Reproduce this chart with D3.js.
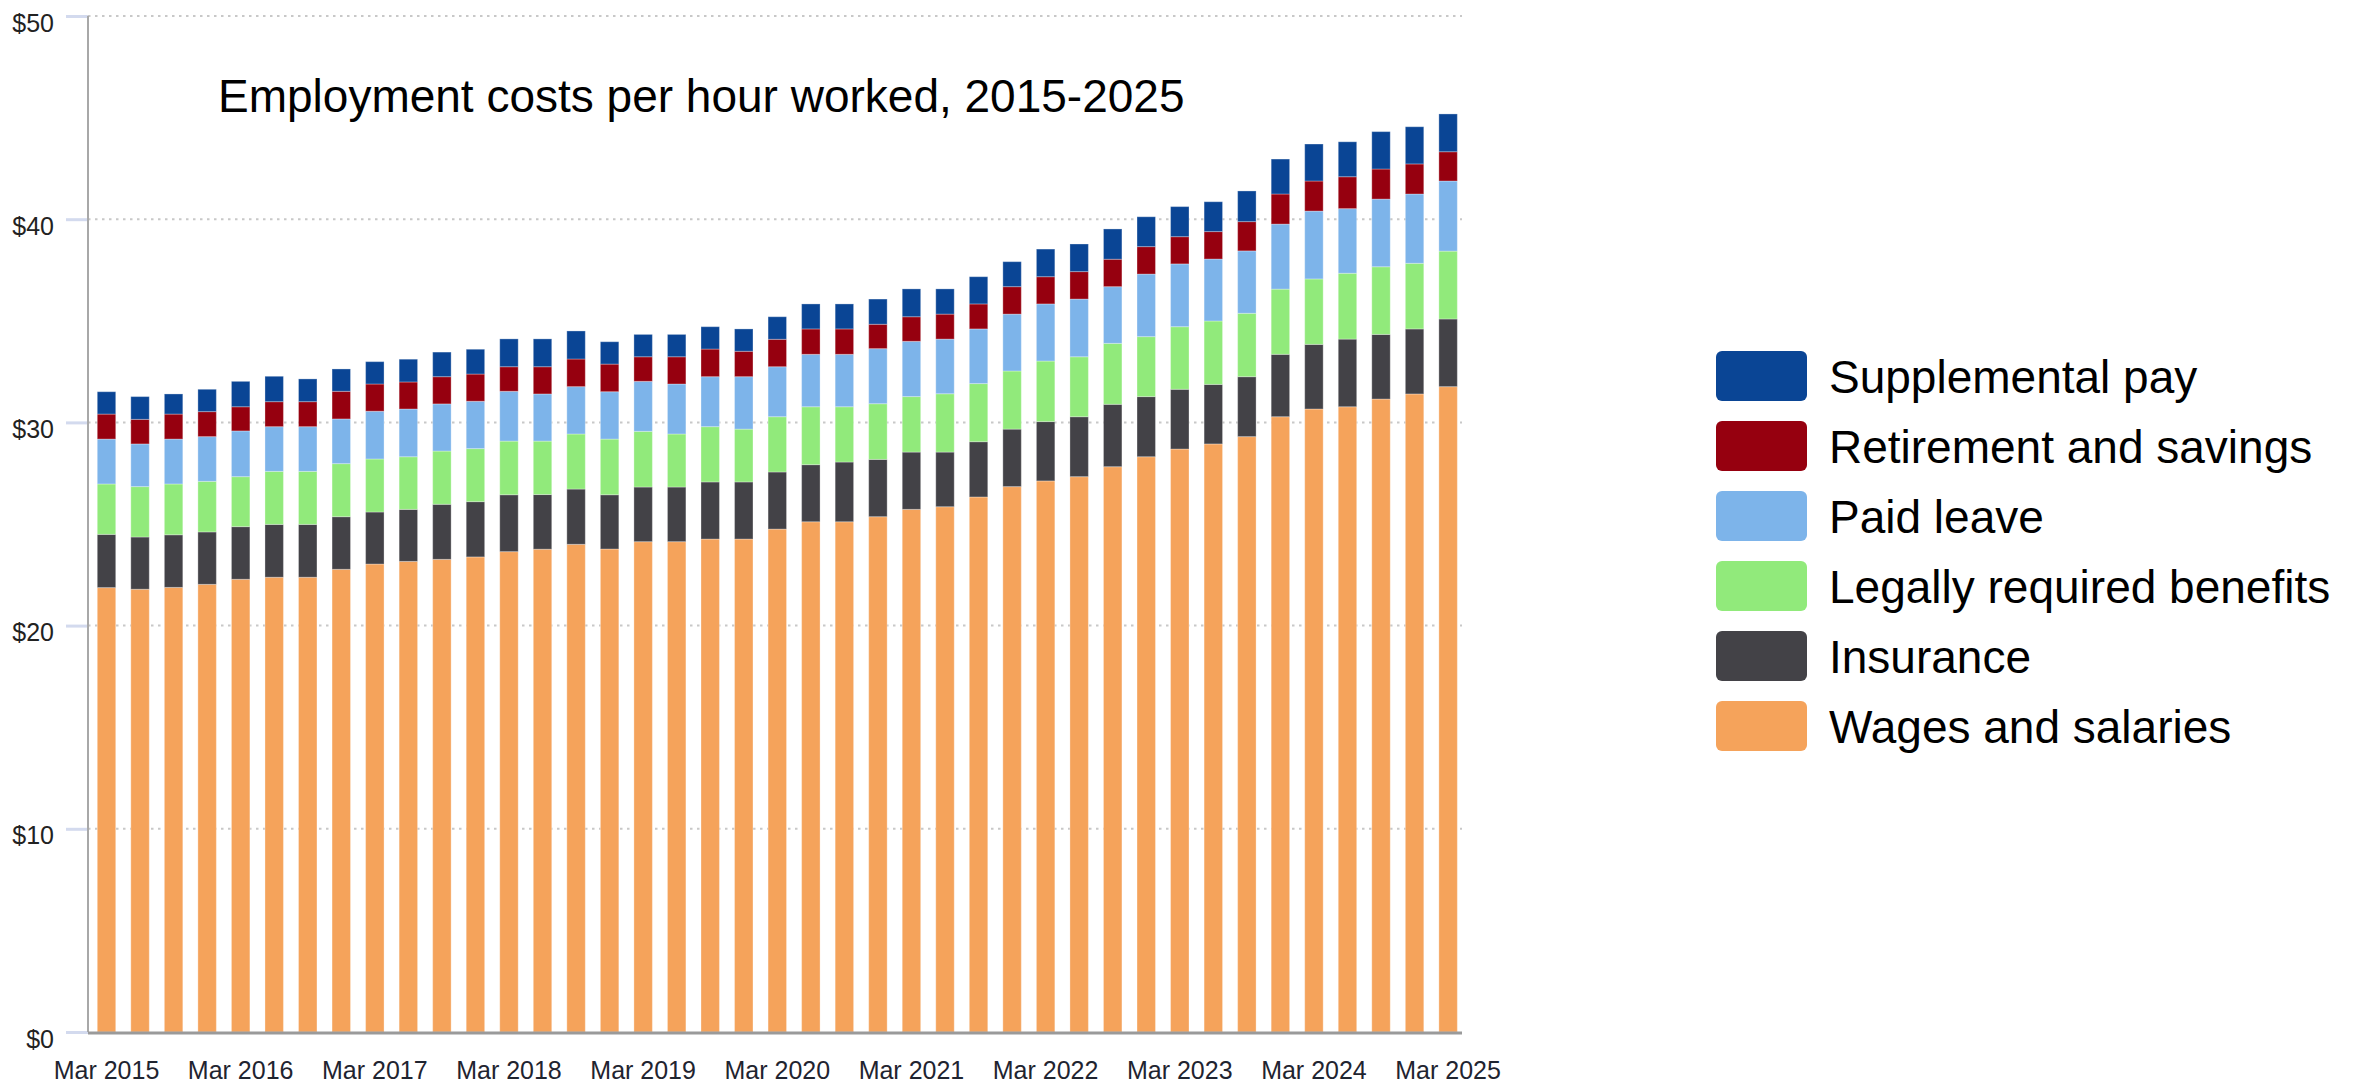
<!DOCTYPE html>
<html>
<head>
<meta charset="utf-8">
<script src="https://cdn.jsdelivr.net/npm/d3@7"></script>
<style>
  body { margin: 0; background: #fff; }
  svg { display: block; }
</style>
</head>
<body>
<div id="chart"></div>
<script>
// quarters, Mar 2015 .. Mar 2025
var quarters = [
  "Mar 2015", "Jun 2015", "Sep 2015", "Dec 2015",
  "Mar 2016", "Jun 2016", "Sep 2016", "Dec 2016",
  "Mar 2017", "Jun 2017", "Sep 2017", "Dec 2017",
  "Mar 2018", "Jun 2018", "Sep 2018", "Dec 2018",
  "Mar 2019", "Jun 2019", "Sep 2019", "Dec 2019",
  "Mar 2020", "Jun 2020", "Sep 2020", "Dec 2020",
  "Mar 2021", "Jun 2021", "Sep 2021", "Dec 2021",
  "Mar 2022", "Jun 2022", "Sep 2022", "Dec 2022",
  "Mar 2023", "Jun 2023", "Sep 2023", "Dec 2023",
  "Mar 2024", "Jun 2024", "Sep 2024", "Dec 2024",
  "Mar 2025"
];

// dollars per hour worked
var wages = [21.87, 21.79, 21.88, 22.03, 22.28, 22.38, 22.38, 22.77, 23.03, 23.16,
  23.26, 23.38, 23.64, 23.76, 24.00, 23.77, 24.13, 24.13, 24.26, 24.26,
  24.75, 25.11, 25.11, 25.36, 25.72, 25.85, 26.33, 26.84, 27.12, 27.33,
  27.82, 28.31, 28.69, 28.94, 29.30, 30.28, 30.66, 30.77, 31.15, 31.40, 31.76];
var insurance = [2.62, 2.57, 2.59, 2.58, 2.59, 2.60, 2.60, 2.59, 2.56, 2.56,
  2.71, 2.72, 2.80, 2.69, 2.72, 2.67, 2.69, 2.69, 2.81, 2.81,
  2.81, 2.81, 2.94, 2.82, 2.82, 2.69, 2.72, 2.83, 2.92, 2.95,
  3.07, 2.96, 2.94, 2.93, 2.95, 3.07, 3.18, 3.33, 3.18, 3.20, 3.33];
var legal = [2.48, 2.48, 2.50, 2.49, 2.46, 2.61, 2.61, 2.61, 2.61, 2.59,
  2.62, 2.61, 2.64, 2.63, 2.71, 2.74, 2.74, 2.61, 2.72, 2.60,
  2.72, 2.85, 2.72, 2.74, 2.73, 2.87, 2.86, 2.86, 2.98, 2.95,
  3.00, 2.95, 3.08, 3.12, 3.12, 3.21, 3.22, 3.24, 3.33, 3.23, 3.34];
var paidLeave = [2.21, 2.10, 2.21, 2.20, 2.25, 2.20, 2.20, 2.20, 2.35, 2.35,
  2.32, 2.33, 2.45, 2.32, 2.33, 2.33, 2.46, 2.46, 2.46, 2.58,
  2.46, 2.58, 2.58, 2.71, 2.72, 2.69, 2.69, 2.80, 2.81, 2.84,
  2.79, 3.08, 3.09, 3.05, 3.07, 3.20, 3.34, 3.18, 3.33, 3.41, 3.45];
var retirement = [1.23, 1.21, 1.23, 1.23, 1.19, 1.23, 1.23, 1.36, 1.34, 1.33,
  1.34, 1.34, 1.21, 1.34, 1.36, 1.36, 1.21, 1.34, 1.36, 1.25,
  1.35, 1.25, 1.25, 1.20, 1.21, 1.23, 1.23, 1.35, 1.34, 1.35,
  1.35, 1.35, 1.34, 1.35, 1.44, 1.48, 1.48, 1.57, 1.48, 1.48, 1.44];
var supplemental = [1.10, 1.12, 0.99, 1.10, 1.25, 1.25, 1.12, 1.10, 1.10, 1.12,
  1.21, 1.22, 1.37, 1.37, 1.38, 1.10, 1.10, 1.10, 1.10, 1.10,
  1.11, 1.23, 1.23, 1.24, 1.37, 1.24, 1.34, 1.23, 1.36, 1.36,
  1.49, 1.47, 1.48, 1.47, 1.51, 1.72, 1.82, 1.72, 1.84, 1.83, 1.86];

// stacking order, bottom to top
var seriesKeys = ["wages", "insurance", "legal", "paidLeave", "retirement", "supplemental"];
var seriesNames = ["Wages and salaries", "Insurance", "Legally required benefits",
  "Paid leave", "Retirement and savings", "Supplemental pay"];
var seriesColors = ["#F5A35B", "#434247", "#91EA7B", "#7DB4EA", "#96000F", "#0A4595"];

var yTicks = [0, 10, 20, 30, 40, 50];
var xTickLabels = ["Mar 2015", "Mar 2016", "Mar 2017", "Mar 2018", "Mar 2019", "Mar 2020",
  "Mar 2021", "Mar 2022", "Mar 2023", "Mar 2024", "Mar 2025"];
var title = "Employment costs per hour worked, 2015-2025";

var width = 2364,
  height = 1084;

var values = {
  wages: wages, insurance: insurance, legal: legal,
  paidLeave: paidLeave, retirement: retirement, supplemental: supplemental
};
var table = quarters.map(function(q, i) {
  var row = { quarter: q };
  seriesKeys.forEach(function(k) { row[k] = values[k][i]; });
  return row;
});

var svg = d3.select("#chart")
  .append("svg")
  .attr("width", width)
  .attr("height", height);

var axisLeft = 88,
  axisRight = 1462,
  baseY = 1032,
  topY = 16;

var x = d3.scaleBand()
  .domain(quarters)
  .range([axisLeft, 1466.6])
  .paddingInner(0.45)
  .paddingOuter(0.2766);

var y = d3.scaleLinear()
  .domain([0, 50])
  .range([baseY, topY]);

var color = d3.scaleOrdinal()
  .domain(seriesKeys)
  .range(seriesColors);

// gridlines (dotted)
svg.append("g")
  .selectAll("line")
  .data(yTicks.filter(function(d) { return d > 0; }))
  .enter()
  .append("line")
  .attr("x1", axisLeft)
  .attr("x2", axisRight)
  .attr("y1", function(d) { return y(d); })
  .attr("y2", function(d) { return y(d); })
  .attr("stroke", "#c8c8c8")
  .attr("stroke-width", 2)
  .style("stroke-dasharray", "2.5,4.5");

// y axis: short tick marks + labels
var yAxis = d3.axisLeft(y)
  .tickValues(yTicks)
  .tickSize(22)
  .tickPadding(12)
  .tickFormat(function(d) { return "$" + d; });

var gy = svg.append("g")
  .attr("transform", "translate(" + axisLeft + ",0)")
  .call(yAxis);
gy.select(".domain").remove();
gy.selectAll(".tick line")
  .attr("stroke", "#d3daee")
  .attr("stroke-width", 3);
gy.selectAll(".tick text")
  .attr("dy", "0.6em")
  .style("font-family", "'Liberation Sans', Arial, sans-serif")
  .style("font-size", "25px")
  .style("fill", "#222");

// stacked bars
var stacked = d3.stack().keys(seriesKeys)(table);

svg.append("g")
  .selectAll("g")
  .data(stacked)
  .enter()
  .append("g")
  .attr("fill", function(d) { return color(d.key); })
  .selectAll("rect")
  .data(function(d) { return d; })
  .enter()
  .append("rect")
  .attr("x", function(d) { return x(d.data.quarter); })
  .attr("width", x.bandwidth())
  .attr("y", function(d) { return y(d[1]); })
  .attr("height", function(d) { return y(d[0]) - y(d[1]); })
  .attr("stroke", "#ffffff")
  .attr("stroke-opacity", 0.3)
  .attr("stroke-width", 1);

// axis lines
svg.append("line")
  .attr("x1", axisLeft)
  .attr("x2", axisLeft)
  .attr("y1", y(50))
  .attr("y2", baseY)
  .attr("stroke", "#a8a8a8")
  .attr("stroke-width", 2);

svg.append("line")
  .attr("x1", axisLeft)
  .attr("x2", axisRight)
  .attr("y1", baseY + 1)
  .attr("y2", baseY + 1)
  .attr("stroke", "#9a9a9a")
  .attr("stroke-width", 3);

// x labels, one per year
svg.append("g")
  .selectAll("text")
  .data(xTickLabels)
  .enter()
  .append("text")
  .attr("x", function(d) { return x(d) + x.bandwidth() / 2; })
  .attr("y", 1079)
  .attr("text-anchor", "middle")
  .style("font-family", "'Liberation Sans', Arial, sans-serif")
  .style("font-size", "25px")
  .style("fill", "#1f2430")
  .text(function(d) { return d; });

// title
svg.append("text")
  .attr("x", 218)
  .attr("y", 112)
  .style("font-family", "'Liberation Sans', Arial, sans-serif")
  .style("font-size", "46px")
  .style("fill", "#000")
  .text(title);

// legend, top row = top of stack
var legendItems = seriesKeys.map(function(k, i) {
  return { key: k, name: seriesNames[i] };
}).reverse();

var legend = svg.append("g")
  .attr("transform", "translate(1716,351)");

var rows = legend.selectAll("g")
  .data(legendItems)
  .enter()
  .append("g")
  .attr("transform", function(d, i) { return "translate(0," + (i * 70) + ")"; });

rows.append("rect")
  .attr("width", 91)
  .attr("height", 50)
  .attr("rx", 6)
  .attr("fill", function(d) { return color(d.key); });

rows.append("text")
  .attr("x", 113)
  .attr("y", 42)
  .style("font-family", "'Liberation Sans', Arial, sans-serif")
  .style("font-size", "46px")
  .style("fill", "#000")
  .text(function(d) { return d.name; });
</script>
</body>
</html>
